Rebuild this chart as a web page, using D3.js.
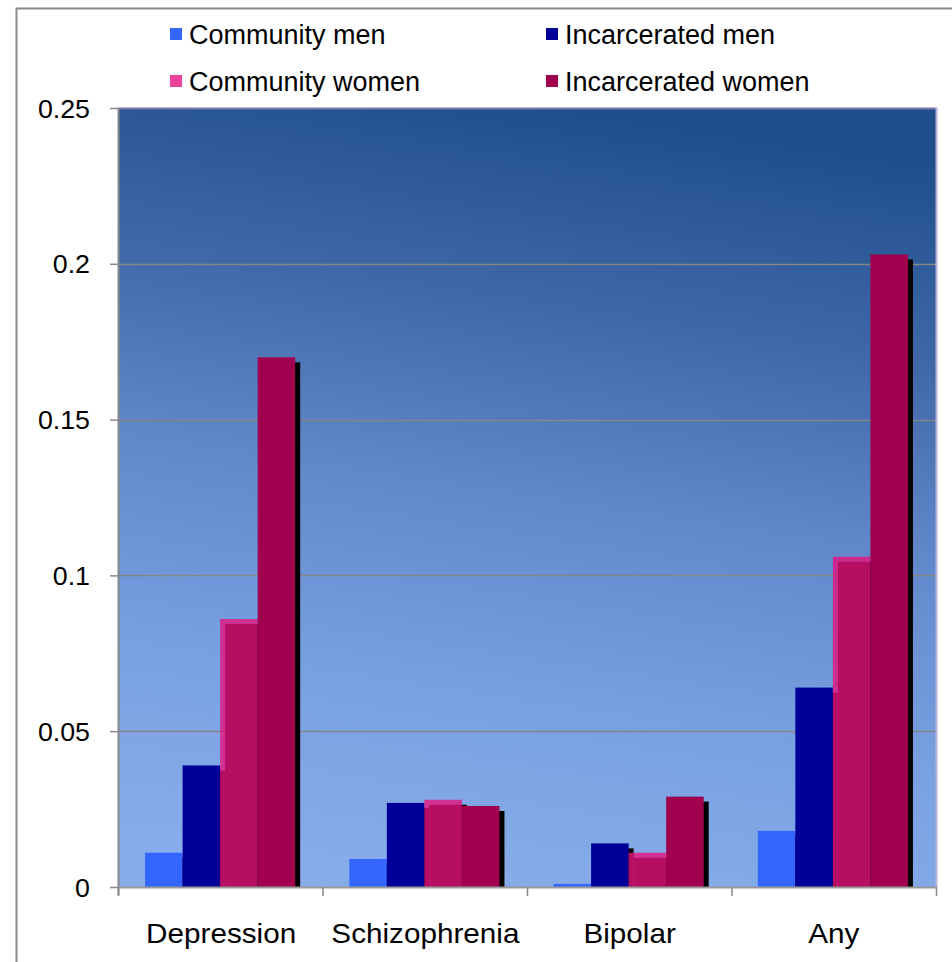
<!DOCTYPE html>
<html><head><meta charset="utf-8">
<script src="https://cdn.jsdelivr.net/npm/d3@7"></script>
<style>html,body{margin:0;padding:0;background:#fff;}svg{display:block;}</style>
</head><body>
<script>
const categories = ["Depression", "Schizophrenia", "Bipolar", "Any"];
const seriesNames = ["Community men", "Incarcerated men", "Community women", "Incarcerated women"];
const communityMen = [0.011, 0.009, 0.001, 0.018];
const incarceratedMen = [0.039, 0.027, 0.014, 0.064];
const communityWomen = [0.086, 0.028, 0.011, 0.106];
const incarceratedWomen = [0.170, 0.026, 0.029, 0.203];
const yTicks = [0, 0.05, 0.1, 0.15, 0.2, 0.25];
const yTickLabels = ["0", "0.05", "0.1", "0.15", "0.2", "0.25"];

const seriesValues = [communityMen, incarceratedMen, communityWomen, incarceratedWomen];
const colors = ["#3366ff", "#000099", "#e5127c", "#a1004e"];
const opac = [1, 1, 0.79, 1];

const W = 952, H = 962;
const L = 118, R = 936, T = 108, B = 887;

const svg = d3.select("body").append("svg").attr("width", W).attr("height", H);

const defs = svg.append("defs");
const grad = defs.append("linearGradient").attr("id", "bg")
  .attr("x1", "0.42").attr("y1", "1").attr("x2", "0.58").attr("y2", "0");
[[0, "#88ace9"], [0.25, "#78a0e1"], [0.5, "#6188ca"], [0.75, "#3f67a7"], [1, "#1f4e8c"]]
  .forEach(([o, c]) => grad.append("stop").attr("offset", o).attr("stop-color", c));
defs.append("clipPath").attr("id", "plotclip").append("rect")
  .attr("x", L).attr("y", T).attr("width", R - L).attr("height", B - T);

// chart border
svg.append("rect").attr("x", 16.5).attr("y", 8.5).attr("width", 1000).attr("height", 1000)
  .attr("fill", "#fff").attr("stroke", "#8a8a8a").attr("stroke-width", 2);

const x = d3.scaleBand().domain(categories).range([L, R - 1]).paddingInner(0.265).paddingOuter(0.1325);
const xs = d3.scaleBand().domain(d3.range(4)).range([0, x.bandwidth()]);
const y = d3.scaleLinear().domain([0, 0.25]).range([B, T]);

// plot background
svg.append("rect").attr("x", L).attr("y", T).attr("width", R - L).attr("height", B - T)
  .attr("fill", "url(#bg)");

// gridlines
svg.append("g").selectAll("line").data(yTicks.filter(d => d > 0 && d < 0.25)).join("line")
  .attr("x1", L).attr("x2", R).attr("y1", d => Math.round(y(d)) + 0.5).attr("y2", d => Math.round(y(d)) + 0.5)
  .attr("stroke", "#858585").attr("stroke-width", 1.3);
// plot top/right border
svg.append("line").attr("x1", L).attr("x2", R + 1).attr("y1", T + 0.5).attr("y2", T + 0.5)
  .attr("stroke", "#7d7aa6").attr("stroke-width", 2);
svg.append("line").attr("x1", R + 0.5).attr("x2", R + 0.5).attr("y1", T).attr("y2", B)
  .attr("stroke", "#b4b4dc").attr("stroke-width", 2);

const data = [];
categories.forEach((c, i) => seriesValues.forEach((s, j) => data.push({c, j, v: s[i]})));

const plot = svg.append("g").attr("clip-path", "url(#plotclip)");
const off = 5;
// shadows
plot.append("g").selectAll("rect").data(data).join("rect")
  .attr("x", d => x(d.c) + xs(d.j) + off)
  .attr("y", d => y(d.v) + off)
  .attr("width", xs.bandwidth())
  .attr("height", d => Math.max(0, B - y(d.v)))
  .attr("fill", "#000");
// bars
plot.append("g").selectAll("rect").data(data).join("rect")
  .attr("x", d => x(d.c) + xs(d.j))
  .attr("y", d => y(d.v))
  .attr("width", xs.bandwidth())
  .attr("height", d => B - y(d.v))
  .attr("fill", d => colors[d.j])
  .attr("fill-opacity", d => opac[d.j]);

// y axis
const yAxis = d3.axisLeft(y).tickValues(yTicks).tickFormat((d, i) => yTickLabels[i]).tickSize(8).tickPadding(0);
const ya = svg.append("g").attr("transform", `translate(${L},0)`).call(yAxis);
ya.select(".domain").attr("stroke", "#888").attr("stroke-width", 2).attr("d", `M0.5,${T}V${B + 8}`);
ya.selectAll(".tick line").attr("stroke", "#888").attr("stroke-width", 1.5);
ya.selectAll(".tick text").remove();
ya.selectAll(".tick").append("text")
  .attr("transform", "translate(-28,9) scale(1.03,1)")
  .attr("text-anchor", "end")
  .attr("fill", "#000")
  .style("font-family", "'Liberation Sans', Arial, sans-serif")
  .style("font-size", "26px")
  .text((d, i) => yTickLabels[i]);

// x axis
svg.append("line").attr("x1", L).attr("x2", R + 1).attr("y1", B + 0.5).attr("y2", B + 0.5)
  .attr("stroke", "#999").attr("stroke-width", 2);
const bounds = d3.range(categories.length + 1).map(i => L + (R - L) * i / categories.length);
svg.append("g").selectAll("line").data(bounds).join("line")
  .attr("x1", d => d + 0.5).attr("x2", d => d + 0.5).attr("y1", B).attr("y2", B + 9)
  .attr("stroke", "#888").attr("stroke-width", 1.5);
svg.append("g").selectAll("text").data(categories).join("text")
  .attr("transform", d => `translate(${x(d) + x.bandwidth() / 2 + 1},943) scale(1.06,1)`)
  .attr("text-anchor", "middle")
  .style("font-family", "'Liberation Sans', Arial, sans-serif")
  .style("font-size", "28px")
  .text(d => d);

// legend
const legPos = [[170, 44], [546, 44], [170, 91], [546, 91]];
const leg = svg.append("g").selectAll("g").data(seriesNames).join("g")
  .attr("transform", (d, i) => `translate(${legPos[i][0]},${legPos[i][1]})`);
leg.append("rect").attr("x", 0).attr("y", -16).attr("width", 12).attr("height", 12)
  .attr("fill", (d, i) => colors[i]).attr("fill-opacity", (d, i) => opac[i]);
leg.append("text").attr("x", 19).attr("y", 0)
  .attr("textLength", null)
  .style("font-family", "'Liberation Sans', Arial, sans-serif")
  .style("font-size", "27px")
  .text(d => d);
</script>
</body></html>
